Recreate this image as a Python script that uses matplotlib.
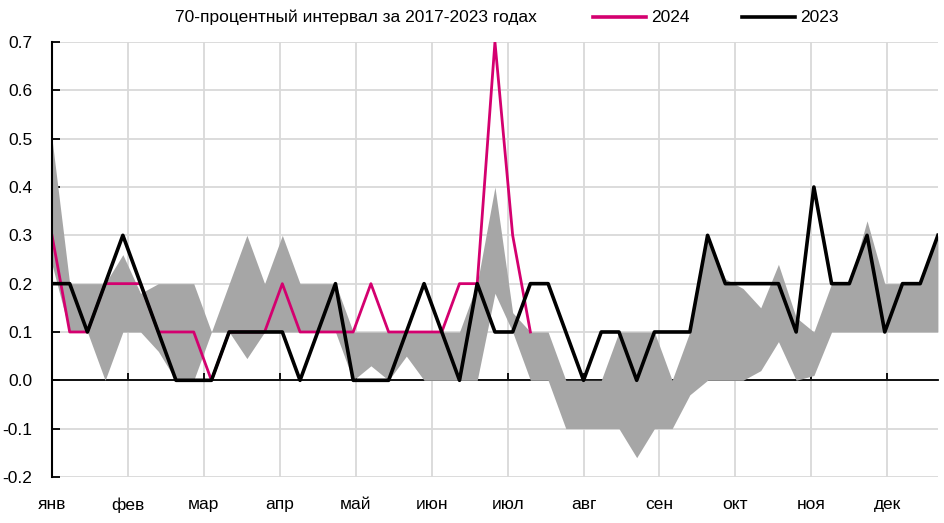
import numpy as np
import matplotlib.pyplot as plt
from matplotlib.lines import Line2D
from matplotlib.ticker import FormatStrFormatter

plt.rcParams['font.family'] = ['Liberation Sans', 'DejaVu Sans']
plt.rcParams['axes.unicode_minus'] = False

months = ['янв', 'фев', 'мар', 'апр', 'май', 'июн',
          'июл', 'авг', 'сен', 'окт', 'ноя', 'дек']

# weekly values, %
band_low = [0.24, 0.1, 0.1, 0.0, 0.1, 0.1, 0.06, 0.0, 0.0, 0.1,
            0.1, 0.045, 0.1, 0.1, 0.1, 0.1, 0.1, 0.0, 0.03, 0.0,
            0.05, 0.0, 0.0, 0.0, 0.0, 0.18, 0.1, 0.0, 0.0, -0.1,
            -0.1, -0.1, -0.1, -0.16, -0.1, -0.1, -0.03, 0.0, 0.0, 0.0,
            0.02, 0.08, 0.0, 0.01, 0.1, 0.1, 0.1, 0.1, 0.1, 0.1,
            0.1]
band_high = [0.5, 0.2, 0.2, 0.2, 0.26, 0.18, 0.2, 0.2, 0.2, 0.1,
             0.2, 0.3, 0.2, 0.3, 0.2, 0.2, 0.2, 0.1, 0.1, 0.1,
             0.1, 0.1, 0.1, 0.1, 0.2, 0.4, 0.14, 0.1, 0.1, 0.0,
             0.0, 0.0, 0.1, 0.1, 0.1, 0.0, 0.1, 0.3, 0.21, 0.19,
             0.15, 0.24, 0.13, 0.1, 0.2, 0.2, 0.33, 0.2, 0.2, 0.2,
             0.3]
y2023 = [0.2, 0.2, 0.1, 0.2, 0.3, 0.2, 0.1, 0.0, 0.0, 0.0,
         0.1, 0.1, 0.1, 0.1, 0.0, 0.1, 0.2, 0.0, 0.0, 0.0,
         0.1, 0.2, 0.1, 0.0, 0.2, 0.1, 0.1, 0.2, 0.2, 0.1,
         0.0, 0.1, 0.1, 0.0, 0.1, 0.1, 0.1, 0.3, 0.2, 0.2,
         0.2, 0.2, 0.1, 0.4, 0.2, 0.2, 0.3, 0.1, 0.2, 0.2,
         0.3]
y2024 = [0.3, 0.1, 0.1, 0.2, 0.2, 0.2, 0.1, 0.1, 0.1, 0.0,
         0.1, 0.1, 0.1, 0.2, 0.1, 0.1, 0.1, 0.1, 0.2, 0.1,
         0.1, 0.1, 0.1, 0.2, 0.2, 0.7, 0.3, 0.1]

MAGENTA = '#d4006f'
GRID = '#d9d9d9'

days = np.arange(len(y2023)) * 7
month_pos = np.arange(len(months)) * 30

fig = plt.figure(figsize=(9.45, 5.23), dpi=100)
ax = fig.add_axes([0.055, 0.088, 0.9375, 0.8317])

ax.fill_between(days, band_low, band_high, color='#a6a6a6', lw=0, zorder=2)
ax.plot(days[:len(y2024)], y2024, color=MAGENTA, lw=2.0, zorder=4)
ax.plot(days, y2023, color='black', lw=2.6, zorder=5)

ax.set_xlim(0, 350)
ax.set_ylim(-0.2, 0.7)
ax.set_yticks(np.round(np.arange(-0.2, 0.71, 0.1), 1))
ax.yaxis.set_major_formatter(FormatStrFormatter('%.1f'))
ax.set_xticks(month_pos)
ax.set_xticklabels([])

ax.grid(color=GRID, lw=1.3)
ax.set_axisbelow(True)
for s in ['top', 'right']:
    ax.spines[s].set_visible(False)
ax.spines['bottom'].set_position(('data', 0))
ax.spines['bottom'].set_linewidth(1.3)
ax.spines['bottom'].set_zorder(1)
ax.spines['left'].set_linewidth(1.5)
ax.spines['left'].set_zorder(6)

ax.tick_params(axis='y', direction='in', length=6, width=1.3, pad=14,
               labelsize=12.5)
ax.tick_params(axis='x', direction='in', length=5, width=1.3)

for pos, name in zip(month_pos, months):
    ax.annotate(name, xy=(pos, 0), xycoords=('data', 'axes fraction'),
                xytext=(0, -20), textcoords='offset points',
                ha='center', va='center', fontsize=12.5)

# legend row on top
ly = 1 - 17 / 523
fig.text(175 / 945, ly, '70-процентный интервал за 2017-2023 годах',
         ha='left', va='center', fontsize=12.5)
fig.add_artist(Line2D([593 / 945, 646 / 945], [ly, ly], color=MAGENTA, lw=2.6))
fig.text(651 / 945, ly, '2024', ha='left', va='center', fontsize=12.5)
fig.add_artist(Line2D([742 / 945, 795 / 945], [ly, ly], color='black', lw=2.6))
fig.text(800 / 945, ly, '2023', ha='left', va='center', fontsize=12.5)

fig.savefig('out.png', dpi=100)
